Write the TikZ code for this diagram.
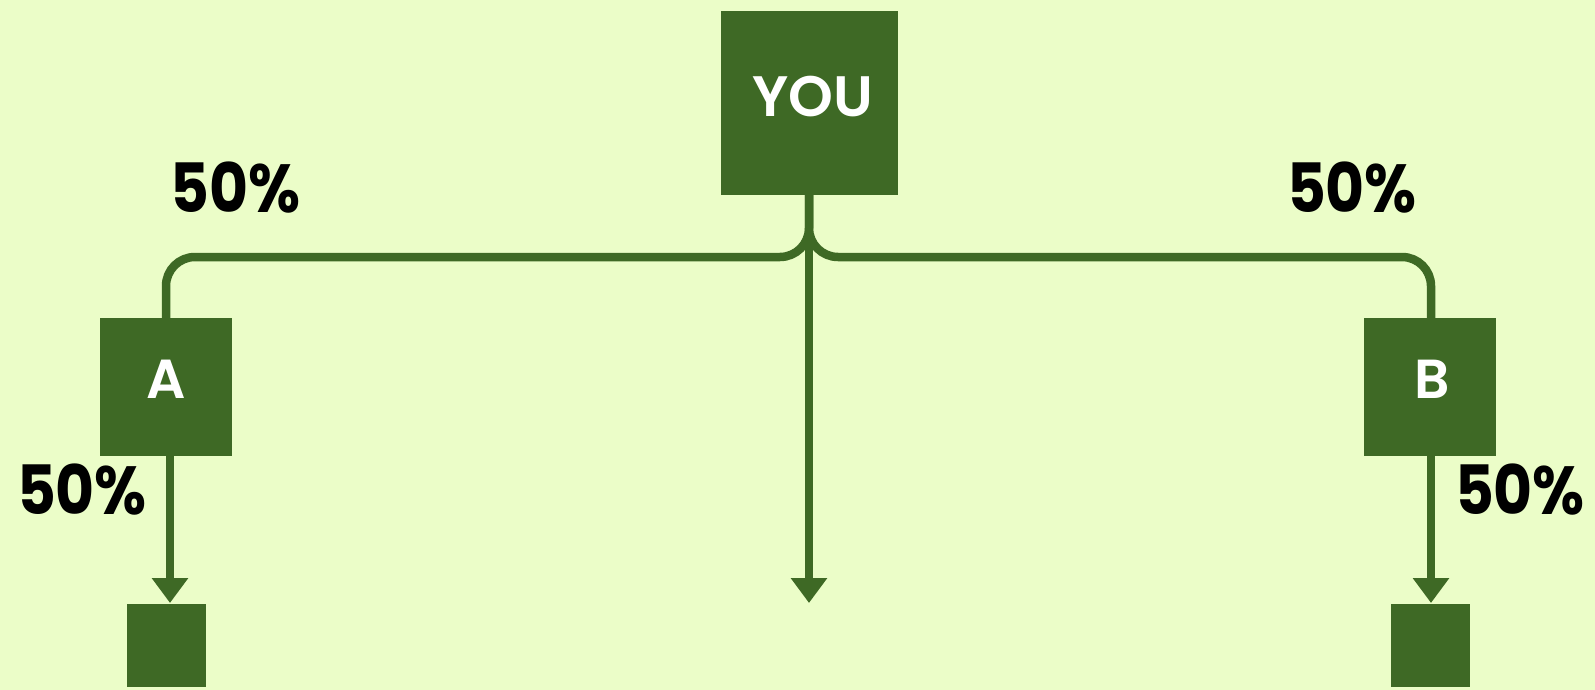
\documentclass[tikz,border=0pt]{standalone}
\usepackage{fontspec}
\setmainfont{Poppins}[BoldFont={Poppins SemiBold}]
\newfontfamily\pctfont{Poppins Bold}[FakeStretch=0.88]
\usetikzlibrary{arrows.meta}
\definecolor{bgc}{RGB}{235,253,200}
\definecolor{grn}{RGB}{62,105,37}
\tikzset{
  box/.style={fill=grn, draw=none, inner sep=0pt},
  boxlbl/.style={text=white, font=\bfseries\fontsize{55}{55}\selectfont, inner sep=0pt},
  pct/.style={text=black, font=\pctfont\fontsize{68}{68}\selectfont, inner sep=0pt},
  conn/.style={draw=grn, line width=8.5pt},
  arr/.style={conn, -{Triangle[width=35pt,length=25pt]}},
}
\begin{document}
\begin{tikzpicture}[x=1pt,y=-1pt]
\useasboundingbox (0,0) rectangle (1595,690);
\fill[bgc] (0,0) rectangle (1595,690);
% boxes
\node[box, minimum width=177pt, minimum height=184pt] (you) at (809,103) {};
\node[box, minimum width=132pt, minimum height=138pt] (a) at (166,387) {};
\node[box, minimum width=132pt, minimum height=138pt] (b) at (1430,387) {};
\node[box, minimum width=79pt, minimum height=83pt] (ca) at (166.5,645.5) {};
\node[box, minimum width=79pt, minimum height=83pt] (cb) at (1430.5,645.5) {};
\coordinate (mid) at (809,603);
% labels
\node[boxlbl, font=\bfseries\fontsize{57}{57}\selectfont] (youtxt) at (813,97) {YOU};
\node[boxlbl] (atxt) at (166.5,379) {A};
\node[boxlbl] (btxt) at (1432,379) {B};
\node[pct] (p1) at (235.5,187.5) {50\%};
\node[pct] (p2) at (1352,187.5) {50\%};
\node[pct] (p3) at (82,489.5) {50\%};
\node[pct] (p4) at (1520,489.5) {50\%};
% connectors
\draw[conn, rounded corners=29pt] (you.south) -- (809,257) -- (166,257) -- (a.north);
\draw[conn, rounded corners=29pt] (you.south) -- (809,257) -- (1431,257) -- (1431,318);
\draw[arr] (you.south) -- (mid);
\draw[arr] (170,455) -- (170,603);
\draw[arr] (1431,455) -- (1431,603);
\end{tikzpicture}
\end{document}
